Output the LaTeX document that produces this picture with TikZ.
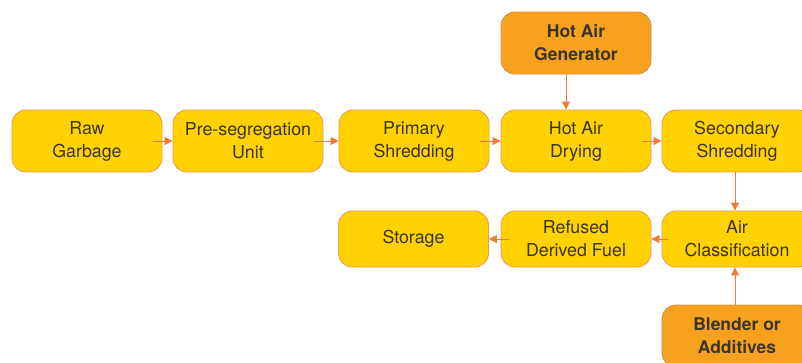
\documentclass[tikz,border=0pt]{standalone}
\usepackage{fontspec}
\setmainfont{TeX Gyre Heros}
\usetikzlibrary{arrows.meta}
\definecolor{boxyellow}{HTML}{FFD200}
\definecolor{boxorange}{HTML}{F7A21F}
\definecolor{edgeorange}{HTML}{F39A4A}
\definecolor{arrowc}{HTML}{F07A3A}
\definecolor{txt}{HTML}{3A3528}
\tikzset{
  stage/.style={draw=edgeorange, line width=0.9pt, fill=boxyellow, rounded corners=14pt,
    minimum width=150pt, minimum height=62pt, align=center, text=txt,
    font=\fontsize{17.8}{23}\selectfont, inner sep=0pt},
  stagelow/.style={stage, minimum height=56pt},
  source/.style={stage, fill=boxorange, draw=edgeorange!90!black, font=\fontsize{17.5}{23}\selectfont\bfseries},
  flow/.style={draw=arrowc, line width=0.9pt, -{Triangle[length=8pt,width=8pt]}},
}
\begin{document}
\begin{tikzpicture}[x=1pt,y=-1pt]
\useasboundingbox (0,0) rectangle (802,362);
\clip (0,0) rectangle (802,362);
\node[stage] (raw) at (87,141) {Raw\\Garbage};
\node[stage] (pre) at (248,141) {Pre-segregation\\Unit};
\node[stage] (prim) at (414,141) {Primary\\Shredding};
\node[stage] (dry) at (576,141) {Hot Air\\Drying};
\node[stage] (sec) at (737,141) {Secondary\\Shredding};
\node[source] (gen) at (576,43) {Hot Air\\Generator};
\node[stagelow] (air) at (737,239) {Air\\Classification};
\node[stagelow] (rdf) at (576,239) {Refused\\Derived Fuel};
\node[stagelow] (stor) at (413.5,239) {Storage};
\node[source] (blend) at (737,336) {Blender or\\Additives};
\draw[flow, shorten <=-9pt] (raw.east) -- (pre.west);
\draw[flow, shorten <=-9pt] (pre.east) -- (prim.west);
\draw[flow, shorten <=-9pt] (prim.east) -- (dry.west);
\draw[flow, shorten <=-9pt] (dry.east) -- (sec.west);
\draw[flow] ([xshift=-10pt]gen.south) -- ([xshift=-10pt]dry.north);
\draw[flow] ([xshift=-2pt]sec.south) -- ([xshift=-2pt]air.north);
\draw[flow, shorten <=-6pt] (air.west) -- (rdf.east);
\draw[flow, shorten <=-8pt] (rdf.west) -- (stor.east);
\draw[flow] ([xshift=-2pt]blend.north) -- ([xshift=-2pt]air.south);
\end{tikzpicture}
\end{document}
